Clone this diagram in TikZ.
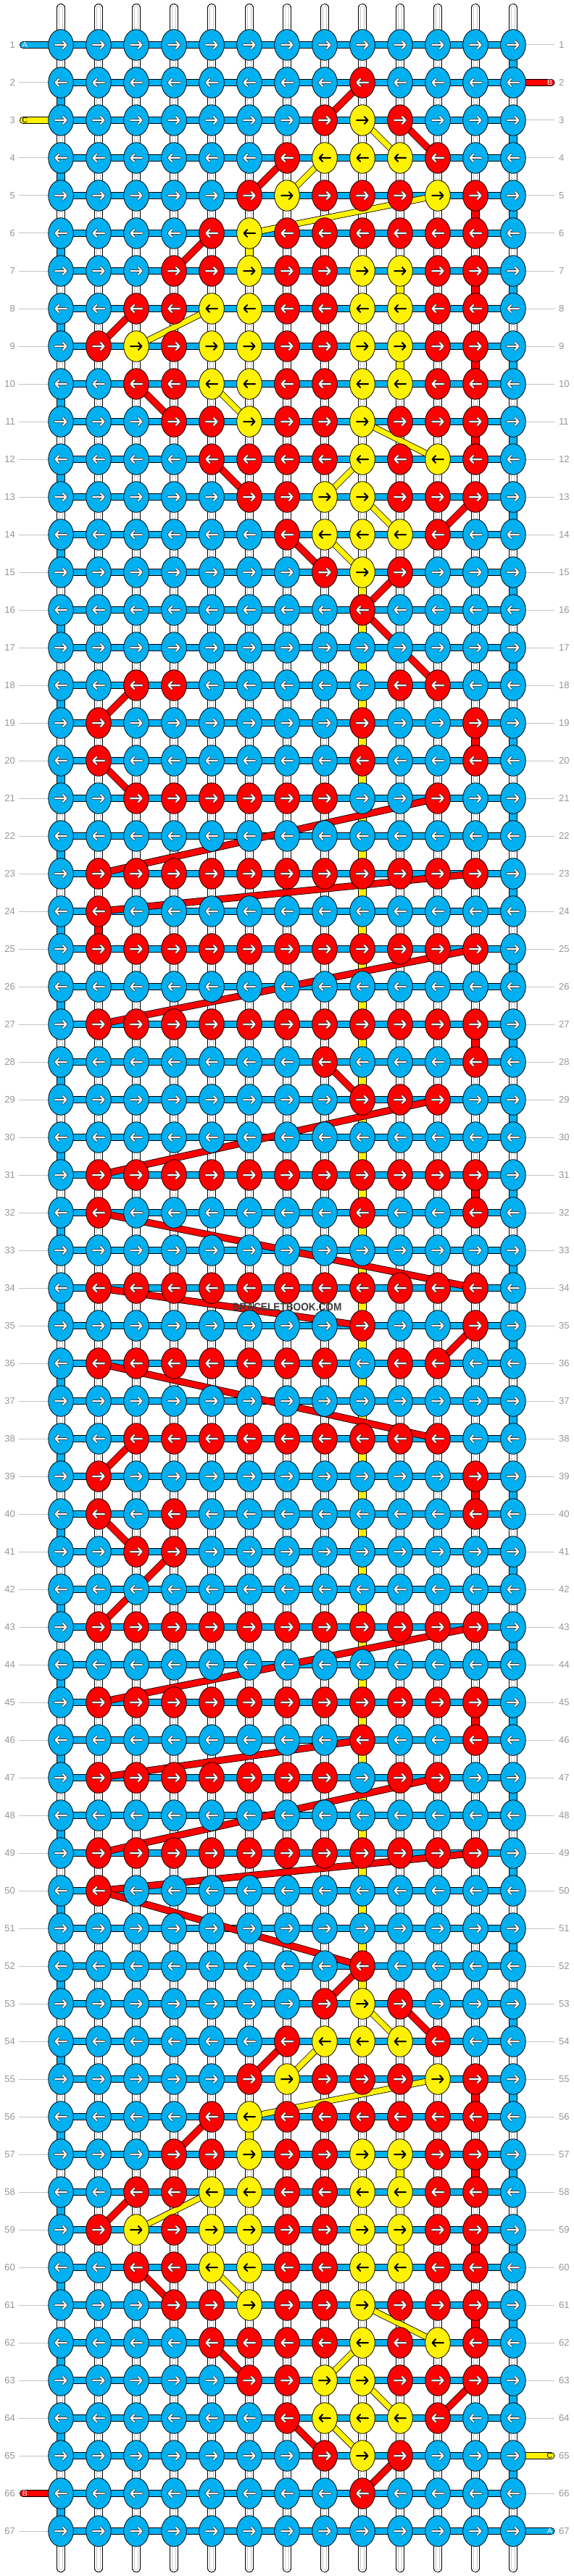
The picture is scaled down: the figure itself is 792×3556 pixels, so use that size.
\documentclass[tikz,border=0pt]{standalone}
\usepackage{fontspec}
\newfontfamily\lsans{Liberation Sans}
\usetikzlibrary{shapes.geometric}
\definecolor{cB}{RGB}{0,176,240}
\definecolor{cR}{RGB}{255,0,0}
\definecolor{cY}{RGB}{255,242,0}
\definecolor{cNum}{RGB}{150,150,150}
\definecolor{cLine}{RGB}{195,195,195}
\definecolor{cMark}{RGB}{60,60,60}
\definecolor{cArrOut}{RGB}{60,60,60}
\pgfdeclarelayer{strings}
\pgfdeclarelayer{bars}
\pgfdeclarelayer{diag}
\pgfsetlayers{strings,bars,diag,main}
\tikzset{
  knot/.style={ellipse, draw=black, line width=0.8pt, minimum width=34.6pt, minimum height=42.6pt, inner sep=0pt, outer sep=0pt},
  arr/.style={line width=2pt, line cap=round, line join=round},
  wstring/.style={draw=black, double=white, double distance=9.6pt, line width=0.9pt, line cap=round},
  wstrinner/.style={draw=black!22, double=white, double distance=3.8pt, line width=0.8pt, line cap=round},
  hbar/.style={draw=black, double=cB, double distance=8.4pt, line width=0.9pt},
  vconn/.style={draw=black, double=#1, double distance=9.6pt, line width=0.9pt},
  rline/.style={draw=black, double=cR, double distance=8.2pt, line width=0.8pt},
  yline/.style={draw=black, double=cY, double distance=7.2pt, line width=0.8pt},
  lbar/.style={draw=black, double=#1, double distance=8.4pt, line width=0.9pt, line cap=round},
  numL/.style={anchor=east, inner xsep=5pt, inner ysep=0pt, text=cNum, font=\lsans\fontsize{13}{13}\selectfont},
  numR/.style={anchor=west, inner xsep=6pt, inner ysep=0pt, text=cNum, font=\lsans\fontsize{13}{13}\selectfont},
  sideline/.style={draw=cLine, line width=1pt},
  lettr/.style={inner sep=0pt, font=\lsans\fontsize{10.5}{10.5}\selectfont}
}
\newcount\knotcol
\def\knotrow#1#2{\knotcol=0 \edef\knotr{#1}\knoteat#2\relax}
\def\knoteat#1{\ifx#1\relax\else\advance\knotcol by 1 \knotdraw#1\expandafter\knoteat\fi}
\def\knotdraw#1{%
  \pgfmathsetmacro\kx{84+52*(\the\knotcol-1)}%
  \pgfmathsetmacro\ky{62+52*(\knotr-1)}%
  \ifx#1y\def\kf{cY}\else\ifx#1r\def\kf{cR}\else\def\kf{cB}\fi\fi
  \node[knot, fill=\kf] (k\knotr-\the\knotcol) at (\kx,\ky) {};
  \ifodd\knotr\relax\def\kd{1}\else\def\kd{-1}\fi
  \begin{scope}[shift={(\kx,\ky)}, xscale=\kd]
    \ifx#1y
      \draw[arr, black] (-8,0) -- (7.5,0) (2.8,-5) -- (7.5,0) -- (2.8,5);
    \else
      \draw[arr, cArrOut, line width=3.6pt] (-8,0) -- (7.5,0) (2.8,-5) -- (7.5,0) -- (2.8,5);
      \draw[arr, white] (-8,0) -- (7.5,0) (2.8,-5) -- (7.5,0) -- (2.8,5);
    \fi
  \end{scope}}
\newcommand\Rl[2]{\draw[rline] (k#1.center) -- (k#2.center);}
\newcommand\Yl[2]{\draw[yline] (k#1.center) -- (k#2.center);}
\newcommand\Rv[2]{\draw[vconn=cR] (k#1.center) -- (k#2.center);}
\newcommand\Yv[2]{\draw[vconn=cY] (k#1.center) -- (k#2.center);}
\begin{document}
\begin{tikzpicture}[x=1pt, y=-1pt]
\useasboundingbox (0,0) rectangle (792,3556);
\begin{pgfonlayer}{strings}
\fill[white] (0,0) rectangle (792,3556);
\end{pgfonlayer}
% ---------- knots ----------
\knotrow{1}{bbbbbbbbbbbbb}
\knotrow{2}{bbbbbbbbrbbbb}
\knotrow{3}{bbbbbbbryrbbb}
\knotrow{4}{bbbbbbryyyrbb}
\knotrow{5}{bbbbbryrrryrb}
\knotrow{6}{bbbbryrrrrrrb}
\knotrow{7}{bbbrryrryyrrb}
\knotrow{8}{bbrryyrryyrrb}
\knotrow{9}{bryryyrryyrrb}
\knotrow{10}{bbrryyrryyrrb}
\knotrow{11}{bbbrryrryrrrb}
\knotrow{12}{bbbbrrrryryrb}
\knotrow{13}{bbbbbrryyrrrb}
\knotrow{14}{bbbbbbryyyrbb}
\knotrow{15}{bbbbbbbryrbbb}
\knotrow{16}{bbbbbbbbrbbbb}
\knotrow{17}{bbbbbbbbbbbbb}
\knotrow{18}{bbrrbbbbbrrbb}
\knotrow{19}{brbbbbbbrbbrb}
\knotrow{20}{brbbbbbbrbbrb}
\knotrow{21}{bbrrrrrrbbrbb}
\knotrow{22}{bbbbbbbbbbbbb}
\knotrow{23}{brrrrrrrrrrrb}
\knotrow{24}{brbbbbbbbbbbb}
\knotrow{25}{brrrrrrrrrrrb}
\knotrow{26}{bbbbbbbbbbbbb}
\knotrow{27}{brrrrrrrrrrrb}
\knotrow{28}{bbbbbbbrbbbrb}
\knotrow{29}{bbbbbbbbrrrbb}
\knotrow{30}{bbbbbbbbbbbbb}
\knotrow{31}{brrrrrrrrrrrb}
\knotrow{32}{brbbbbbbrbbrb}
\knotrow{33}{bbbbbbbbbbbbb}
\knotrow{34}{brrrrrrrrrrrb}
\knotrow{35}{bbbbbbbbrbbrb}
\knotrow{36}{brrrrrrrbrrbb}
\knotrow{37}{bbbbbbbbbbbbb}
\knotrow{38}{bbrrrrrrrrrbb}
\knotrow{39}{brbbbbbbbbbrb}
\knotrow{40}{brbrbbbbbbbrb}
\knotrow{41}{bbrrbbbbbbbbb}
\knotrow{42}{bbbbbbbbbbbbb}
\knotrow{43}{brrrrrrrrrrrb}
\knotrow{44}{bbbbbbbbbbbbb}
\knotrow{45}{brrrrrrrrrrrb}
\knotrow{46}{bbbbbbbbrbbrb}
\knotrow{47}{brrrrrrrbrrbb}
\knotrow{48}{bbbbbbbbbbbbb}
\knotrow{49}{brrrrrrrrrrrb}
\knotrow{50}{brbbbbbbbbbbb}
\knotrow{51}{bbbbbbbbbbbbb}
\knotrow{52}{bbbbbbbbrbbbb}
\knotrow{53}{bbbbbbbryrbbb}
\knotrow{54}{bbbbbbryyyrbb}
\knotrow{55}{bbbbbryrrryrb}
\knotrow{56}{bbbbryrrrrrrb}
\knotrow{57}{bbbrryrryyrrb}
\knotrow{58}{bbrryyrryyrrb}
\knotrow{59}{bryryyrryyrrb}
\knotrow{60}{bbrryyrryyrrb}
\knotrow{61}{bbbrryrryrrrb}
\knotrow{62}{bbbbrrrryryrb}
\knotrow{63}{bbbbbrryyrrrb}
\knotrow{64}{bbbbbbryyyrbb}
\knotrow{65}{bbbbbbbryrbbb}
\knotrow{66}{bbbbbbbbrbbbb}
\knotrow{67}{bbbbbbbbbbbbb}
% ---------- row numbers ----------
\foreach \r in {1,...,67}{
  \pgfmathsetmacro\ry{62+52*(\r-1)}
  \node[numL] (nl\r) at (26,\ry) {\r};
  \node[numR] (nr\r) at (765,\ry) {\r};
}
% ---------- warp strings ----------
\begin{pgfonlayer}{strings}
\foreach \c in {1,...,13}{
  \pgfmathsetmacro\sx{84+52*(\c-1)}
  \coordinate (st\c) at (\sx,10.7);
  \coordinate (sb\c) at (\sx,3545.3);
  \draw[wstring] (st\c) -- (sb\c);
  \draw[wstrinner] (st\c) -- (sb\c);
}
\end{pgfonlayer}
% ---------- bars and vertical connectors ----------
\begin{pgfonlayer}{bars}
\foreach \r in {1,3,...,65}{\pgfmathtruncatemacro\rr{\r+1}\draw[vconn=cB] (k\r-13.center) -- (k\rr-13.center);}
\foreach \r in {2,4,...,66}{\pgfmathtruncatemacro\rr{\r+1}\draw[vconn=cB] (k\r-1.center) -- (k\rr-1.center);}
\Rv{5-12}{6-12}\Rv{7-12}{8-12}\Rv{9-12}{10-12}\Rv{11-12}{12-12}
\Rv{55-12}{56-12}\Rv{57-12}{58-12}\Rv{59-12}{60-12}\Rv{61-12}{62-12}
\Rv{19-12}{20-12}\Rv{24-2}{25-2}\Rv{27-12}{28-12}\Rv{31-12}{32-12}
\Rv{39-12}{40-12}\Rv{45-12}{46-12}
\Yv{6-6}{7-6}\Yv{7-10}{8-10}\Yv{9-10}{10-10}
\Yv{56-6}{57-6}\Yv{57-10}{58-10}\Yv{59-10}{60-10}
\Yv{15-9}{53-9}
\foreach \r in {1,...,67}{\draw[hbar] (k\r-1.center) -- (k\r-13.center);}
% side labels (threads A, B, C)
\coordinate (lb1) at (32,62);    \draw[lbar=cB] (k1-1.center) -- (lb1);
\coordinate (lb3) at (32,166);   \draw[lbar=cY] (k3-1.center) -- (lb3);
\coordinate (lb66) at (32,3442); \draw[lbar=cR] (k66-1.center) -- (lb66);
\coordinate (rb2) at (760.5,114);   \draw[lbar=cR] (k2-13.center) -- (rb2);
\coordinate (rb65) at (760.5,3390); \draw[lbar=cY] (k65-13.center) -- (rb65);
\coordinate (rb67) at (760.5,3494); \draw[lbar=cB] (k67-13.center) -- (rb67);
\foreach \r in {2,4,5,...,65,67}{\draw[sideline] (nl\r.east) -- (k\r-1.west);}
\foreach \r in {1,3,4,...,64,66}{\draw[sideline] (k\r-13.east) -- (nr\r.west);}
\end{pgfonlayer}
% ---------- thread paths ----------
\begin{pgfonlayer}{diag}
% top motif
\Rl{2-9}{3-8}\Rl{3-10}{4-11}\Rl{4-7}{5-6}\Rl{6-5}{7-4}\Rl{8-3}{9-2}
\Rl{10-3}{11-4}\Rl{12-5}{13-6}\Rl{13-12}{14-11}\Rl{14-7}{15-8}\Rl{15-10}{16-9}
\Yl{3-9}{4-10}\Yl{4-8}{5-7}\Yl{5-11}{6-6}\Yl{8-5}{9-3}\Yl{10-5}{11-6}
\Yl{11-9}{12-11}\Yl{12-9}{13-8}\Yl{13-9}{14-10}\Yl{14-8}{15-9}
% bottom motif
\Rl{52-9}{53-8}\Rl{53-10}{54-11}\Rl{54-7}{55-6}\Rl{56-5}{57-4}\Rl{58-3}{59-2}
\Rl{60-3}{61-4}\Rl{62-5}{63-6}\Rl{63-12}{64-11}\Rl{64-7}{65-8}\Rl{65-10}{66-9}
\Yl{53-9}{54-10}\Yl{54-8}{55-7}\Yl{55-11}{56-6}\Yl{58-5}{59-3}\Yl{60-5}{61-6}
\Yl{61-9}{62-11}\Yl{62-9}{63-8}\Yl{63-9}{64-10}\Yl{64-8}{65-9}
% middle zigzag
\Rl{16-9}{18-11}\Rl{18-3}{19-2}\Rl{20-2}{21-3}\Rl{21-11}{23-2}\Rl{23-12}{24-2}
\Rl{25-12}{27-2}\Rl{28-8}{29-9}\Rl{29-11}{31-2}\Rl{32-2}{34-12}\Rl{34-2}{35-9}
\Rl{35-12}{36-11}\Rl{36-2}{38-11}\Rl{38-3}{39-2}\Rl{40-2}{41-3}\Rl{41-4}{43-2}
\Rl{43-12}{45-2}\Rl{46-9}{47-2}\Rl{47-11}{49-2}\Rl{49-12}{50-2}\Rl{50-2}{52-9}
\end{pgfonlayer}
% ---------- label letters ----------
\node[lettr, text=white] (la1) at (34.5,62) {A};
\node[lettr, text=black] (la3) at (34.5,166) {C};
\node[lettr, text=white] (la66) at (34.5,3442) {B};
\node[lettr, text=white] (ra2) at (758.5,114) {B};
\node[lettr, text=black] (ra65) at (758.5,3390) {C};
\node[lettr, text=white] (ra67) at (758.5,3494) {A};
% ---------- watermark ----------
\begin{scope}[shift={(396,1804)}, xscale=0.91]
\node[transform shape, inner sep=0pt, text=cMark, font=\lsans\bfseries\fontsize{15}{15}\selectfont] (wm) at (0,0) {BRACELETBOOK.COM};
\end{scope}
\end{tikzpicture}
\end{document}
